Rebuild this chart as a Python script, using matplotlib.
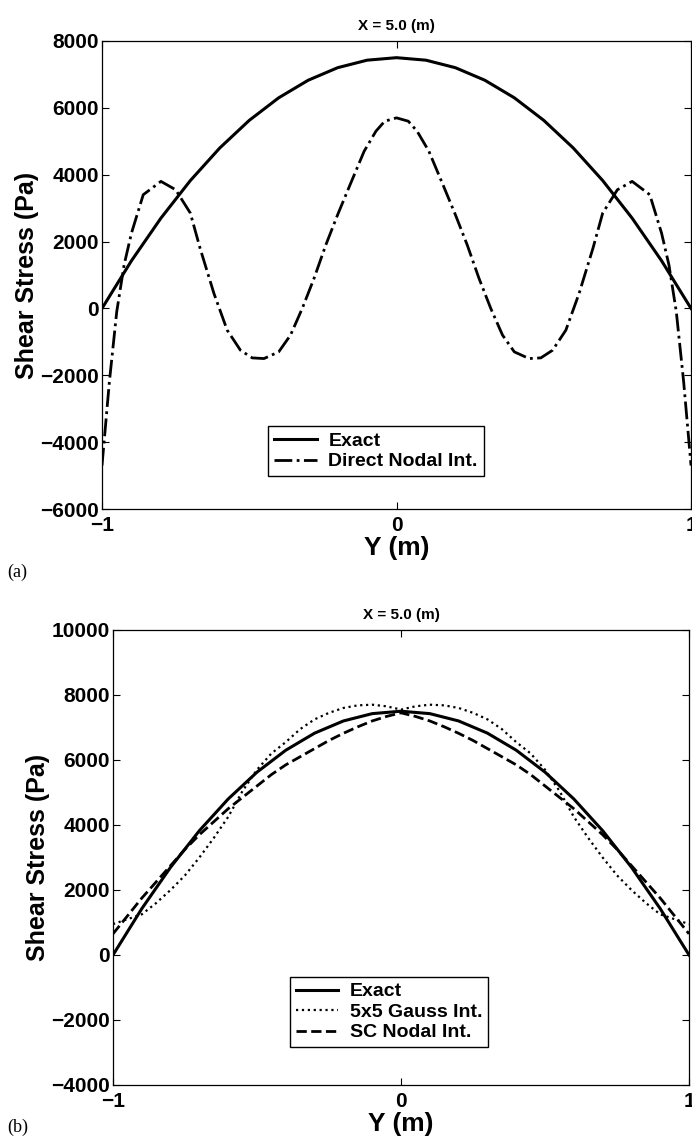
import numpy as np
import matplotlib.pyplot as plt

# shear stress across the section at X = 5.0 m
y_half = [-1.0, -0.9, -0.8, -0.7, -0.6, -0.5, -0.4, -0.3, -0.2, -0.1, 0.0]
exact_half = [0, 1425, 2700, 3825, 4800, 5625, 6300, 6825, 7200, 7425, 7500]

# (a) direct nodal integration, left half (symmetric about Y = 0)
dni_y = [-1.0, -0.975, -0.95, -0.925, -0.9, -0.86, -0.8, -0.75, -0.7, -0.667,
         -0.62, -0.575, -0.53, -0.49, -0.45, -0.4, -0.36, -0.32, -0.28, -0.24,
         -0.2, -0.16, -0.11, -0.07, -0.04, 0.0]
dni_val = [-4700, -2200, -100, 1300, 2250, 3400, 3800, 3550, 2850, 1800,
           450, -650, -1250, -1480, -1500, -1300, -800, 0, 900, 1900,
           2800, 3650, 4700, 5300, 5600, 5700]

# (b) 5x5 Gauss and stabilized conforming nodal integration, left half
b_y = [-1.0, -0.95, -0.9, -0.85, -0.8, -0.75, -0.7, -0.65, -0.6, -0.55, -0.5,
       -0.45, -0.4, -0.35, -0.3, -0.25, -0.2, -0.15, -0.1, -0.05, 0.0]
gauss_val = [950, 1100, 1250, 1600, 2000, 2450, 3000, 3600, 4250, 5050, 5700,
             6200, 6550, 6950, 7250, 7450, 7600, 7680, 7700, 7650, 7550]
scni_val = [650, 1200, 1750, 2250, 2750, 3250, 3700, 4100, 4500, 4850, 5200,
            5550, 5850, 6100, 6350, 6600, 6820, 7020, 7200, 7340, 7450]


def mirror(x, v):
    x = np.asarray(x, float)
    v = np.asarray(v, float)
    return np.concatenate([x, -x[-2::-1]]), np.concatenate([v, v[-2::-1]])


plt.rcParams['font.family'] = ['Liberation Sans', 'DejaVu Sans']
plt.rcParams['font.weight'] = 'bold'

fig = plt.figure(figsize=(6.92, 11.41), dpi=100)
ax1 = fig.add_axes([0.1474, 0.5539, 0.8512, 0.4102])
ax2 = fig.add_axes([0.1633, 0.0491, 0.8324, 0.3988])


def style(ax, ylim, yticks):
    ax.set_xlim(-1, 1)
    ax.set_ylim(*ylim)
    ax.set_xticks([-1, 0, 1])
    ax.set_xticklabels(['\u22121', '0', '1'])
    ax.set_yticks(yticks)
    ax.set_yticklabels([str(t).replace('-', '\u2212') for t in yticks])
    ax.tick_params(direction='in', top=True, right=True, length=5, width=0.8,
                   labelsize=15)
    ax.tick_params(axis='x', pad=5)
    ax.tick_params(axis='y', pad=2)
    for s in ax.spines.values():
        s.set_linewidth(0.9)
    ax.set_title('X = 5.0 (m)', fontsize=11, fontweight='bold', pad=8)
    ax.set_xlabel('Y (m)', fontsize=19, fontweight='bold', labelpad=1)
    ax.set_ylabel('Shear Stress (Pa)', fontsize=18, fontweight='bold', labelpad=1)


xe, ve = mirror(y_half, exact_half)
xd, vd = mirror(dni_y, dni_val)
ax1.plot(xe, ve, '-', color='black', lw=2.2, label='Exact')
ax1.plot(xd, vd, '-.', color='black', lw=2.0, label='Direct Nodal Int.')
style(ax1, (-6000, 8000), list(range(-6000, 8001, 2000)))
ax1.legend(loc='lower left', bbox_to_anchor=(0.282, 0.07), fontsize=14,
           fancybox=False, framealpha=1, edgecolor='black', handlelength=2.2,
           borderpad=0.3, labelspacing=0.15, handletextpad=0.6, borderaxespad=0)

xg, vg = mirror(b_y, gauss_val)
xs, vs = mirror(b_y, scni_val)
ax2.plot(xe, ve, '-', color='black', lw=2.2, label='Exact')
ax2.plot(xg, vg, ':', color='black', lw=1.6, label='5x5 Gauss Int.')
ax2.plot(xs, vs, '--', color='black', lw=2.0, label='SC Nodal Int.')
style(ax2, (-4000, 10000), list(range(-4000, 10001, 2000)))
ax2.legend(loc='lower left', bbox_to_anchor=(0.307, 0.083), fontsize=14,
           fancybox=False, framealpha=1, edgecolor='black', handlelength=2.2,
           borderpad=0.3, labelspacing=0.15, handletextpad=0.6, borderaxespad=0)

fig.text(0.01, 0.494, '(a)', family='Liberation Serif', fontweight='normal', fontsize=13)
fig.text(0.01, 0.008, '(b)', family='Liberation Serif', fontweight='normal', fontsize=13)

fig.savefig('out.png', dpi=100)
